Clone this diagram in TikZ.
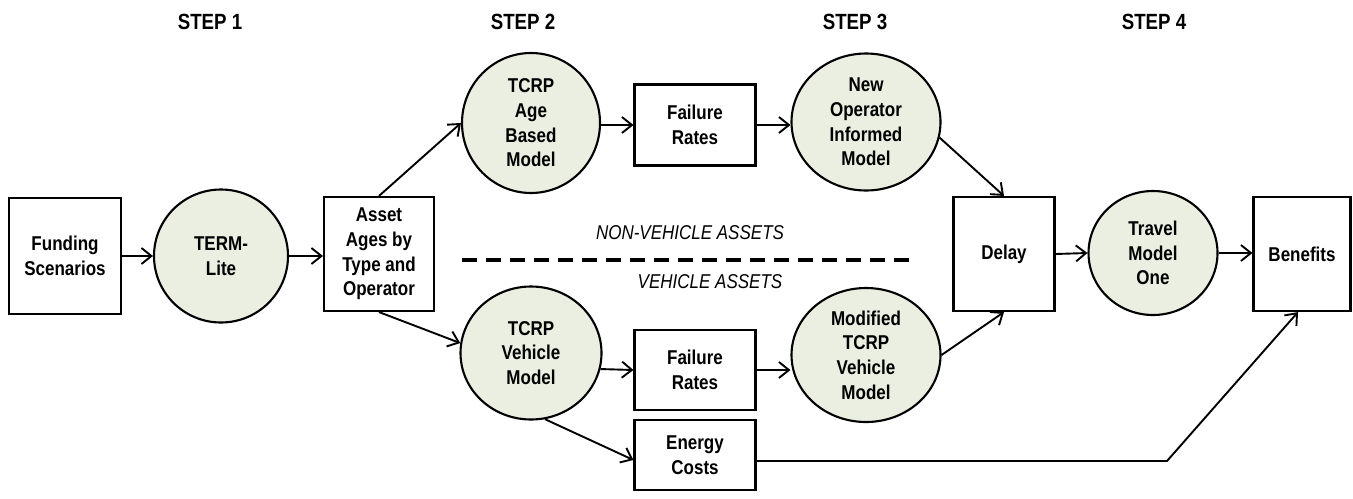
\documentclass[tikz,border=0pt]{standalone}
\usepackage{fontspec}
\setmainfont{Liberation Sans}[FakeStretch=0.85]
\usetikzlibrary{shapes.geometric,arrows.meta,calc}
\definecolor{cfill}{RGB}{235,239,226}
\tikzset{
  every node/.style={font=\fontsize{10}{12.3}\selectfont\bfseries, align=center, inner sep=0pt},
  boxnode/.style={draw, line width=1.05pt, fill=white},
  ellnode/.style={draw, ellipse, line width=1.05pt, fill=cfill},
  conn/.style={line width=0.95pt, -{Straight Barb[length=5pt,width=8pt,line width=0.95pt]}},
  steplabel/.style={font=\fontsize{11}{12}\selectfont\bfseries},
  zonelabel/.style={font=\fontsize{10}{11}\selectfont\itshape},
}
\begin{document}
\begin{tikzpicture}[x=0.5pt,y=-0.5pt]
\useasboundingbox (0,0) rectangle (1353,498);
% step labels
\node[steplabel] (s1) at (210,22) {STEP 1};
\node[steplabel] (s2) at (523,22) {STEP 2};
\node[steplabel] (s3) at (855,22) {STEP 3};
\node[steplabel] (s4) at (1154,22) {STEP 4};
% nodes
\node[boxnode, minimum width=56pt, minimum height=58pt] (fund) at (65,256) {Funding\\Scenarios};
\node[ellnode, minimum width=67pt, minimum height=66.5pt] (term) at (221,256) {TERM-\\Lite};
\node[boxnode, minimum width=55pt, minimum height=57pt] (asset) at (379,254) {Asset\\Ages by\\Type and\\Operator};
\node[ellnode, minimum width=69pt, minimum height=70pt] (age) at (531,123) {TCRP\\Age\\Based\\Model};
\node[boxnode, minimum width=60.5pt, minimum height=40.5pt] (fr1) at (695,125) {Failure\\Rates};
\node[ellnode, minimum width=74.5pt, minimum height=68.5pt] (newop) at (866,122) {New\\Operator\\Informed\\Model};
\node[ellnode, minimum width=70.5pt, minimum height=66.5pt] (veh) at (531,353) {TCRP\\Vehicle\\Model};
\node[boxnode, minimum width=60.5pt, minimum height=40pt] (fr2) at (695,370) {Failure\\Rates};
\node[ellnode, minimum width=74.5pt, minimum height=67pt] (mod) at (866,355) {Modified\\TCRP\\Vehicle\\Model};
\node[boxnode, minimum width=60.5pt, minimum height=35pt] (energy) at (695,455) {Energy\\Costs};
\node[boxnode, minimum width=50.5pt, minimum height=57pt] (delay) at (1004,254) {Delay};
\node[ellnode, minimum width=64.5pt, minimum height=62pt] (travel) at (1153,253) {Travel\\Model\\One};
\node[boxnode, minimum width=48.5pt, minimum height=57pt] (ben) at (1302,254) {Benefits};
% zone labels and divider
\node[zonelabel] (nonveh) at (690,233) {NON-VEHICLE ASSETS};
\node[zonelabel] (vehlab) at (710,282) {VEHICLE ASSETS};
\coordinate (dashA) at (462,260);
\coordinate (dashB) at (918,260);
\draw[line width=2pt, dash pattern=on 7.5pt off 4.5pt] (dashA) -- (dashB);
% connectors
\draw[conn] (fund.east) -- (term.west);
\draw[conn] (term.east) -- (asset.west |- term.east);
\draw[conn] (asset.north) -- (age.west);
\draw[conn] (asset.south) -- (veh.172);
\draw[conn] (age.east |- fr1.west) -- (fr1.west);
\draw[conn] (fr1.east) -- (fr1.east -| newop.west);
\draw[conn] (veh.-13) -- (fr2.west);
\draw[conn] (fr2.east) -- (fr2.east -| mod.west);
\draw[conn] (veh.-78) -- ($(energy.west)+(0,5)$);
\draw[conn] (newop.-12) -- (delay.north);
\draw[conn] (mod.east) -- (delay.south);
\draw[conn] (delay.east) -- (travel.west);
\draw[conn] (travel.east) -- (ben.west |- travel.east);
\coordinate (bend) at (1167,461);
\draw[conn] ($(energy.east)+(0,6)$) -- (bend) -- ($(ben.south)+(-4,0)$);
\end{tikzpicture}
\end{document}
